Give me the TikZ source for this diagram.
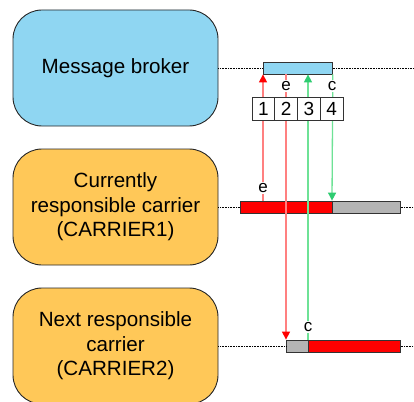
\documentclass[tikz,border=0pt]{standalone}
\usepackage{fontspec}
\setmainfont{Liberation Sans}
\usetikzlibrary{arrows.meta}
\definecolor{brokerblue}{RGB}{143,214,242}
\definecolor{carrierorange}{RGB}{255,200,88}
\definecolor{linered}{RGB}{255,128,128}
\definecolor{linegreen}{RGB}{110,226,150}
\definecolor{tipgreen}{RGB}{46,204,113}
\definecolor{bargray}{RGB}{180,180,180}
\definecolor{barred}{RGB}{255,0,0}
\begin{document}
\begin{tikzpicture}[x=1pt,y=-1pt,
 party/.style={draw=black!85, line width=0.9pt, rounded corners=29pt, minimum width=205pt, minimum height=116pt, align=center, font=\fontsize{20.6}{24.5}\selectfont, inner sep=0pt},
 bar/.style={draw=black!80, line width=0.8pt, minimum height=12pt, inner sep=0pt, anchor=west},
 timeline/.style={line width=0.7pt, dash pattern=on 0.8pt off 0.8pt},
 slot/.style={draw=black!80, fill=white, line width=0.8pt, minimum width=22.75pt, minimum height=23.5pt, inner sep=0pt, font=\fontsize{19}{20}\selectfont},
 tag/.style={fill=white, inner sep=1.5pt, font=\fontsize{17}{18}\selectfont},
 redmsg/.style={draw=linered, line width=1.3pt, -{Triangle[length=8pt,width=8pt,color=barred]}},
 greenmsg/.style={draw=linegreen, line width=1.3pt, -{Triangle[length=8pt,width=8pt,color=tipgreen]}},
]
\clip (0,0) rectangle (414,401);
\fill[white] (0,0) rectangle (414,401);
% parties
\node[party, fill=brokerblue] (mb) at (115.5,68) {Message broker};
\node[party, fill=carrierorange] (c1) at (115.5,207) {Currently\\responsible carrier\\(CARRIER1)};
\node[party, fill=carrierorange] (c2) at (115.5,346) {Next responsible\\carrier\\(CARRIER2)};
% timeline ends
\coordinate (endtop) at (414,68);
\coordinate (endmid) at (414,207);
\coordinate (endbot) at (414,346);
% bars
\node[bar, fill=brokerblue, minimum width=69pt] (tb) at (263,68) {};
\node[bar, fill=barred, minimum width=92pt] (mr) at (240,207) {};
\node[bar, fill=bargray, minimum width=68pt] (mg) at (332,207) {};
\node[bar, fill=bargray, minimum width=22pt] (bg) at (286,346) {};
\node[bar, fill=barred, minimum width=92pt] (br) at (308,346) {};
% timelines
\draw[timeline] (mb.east) -- (tb.west);
\draw[timeline] (tb.east) -- (endtop);
\draw[timeline] (c1.east) -- (mr.west);
\draw[timeline] (mg.east) -- (endmid);
\draw[timeline] (c2.east) -- (bg.west);
\draw[timeline] (br.east) -- (endbot);
% messages
\draw[redmsg] (tb.south west |- mr.north) -- (tb.south west);
\draw[redmsg] (bg.north west |- tb.south) -- (bg.north west);
\draw[greenmsg] (br.north west) -- (br.north west |- tb.south);
\draw[greenmsg] (tb.south east) -- (mg.north west);
% slots
\node[slot] (s1) at (263.4,109) {1};
\node[slot] (s2) at (286.1,109) {2};
\node[slot] (s3) at (308.9,109) {3};
\node[slot] (s4) at (331.6,109) {4};
% tags
\node[tag] (t2) at (286,86) {e};
\node[tag] (t4) at (332,86) {c};
\node[tag] (t1) at (263,188) {e};
\node[tag] (t3) at (308,327) {c};
\end{tikzpicture}
\end{document}
